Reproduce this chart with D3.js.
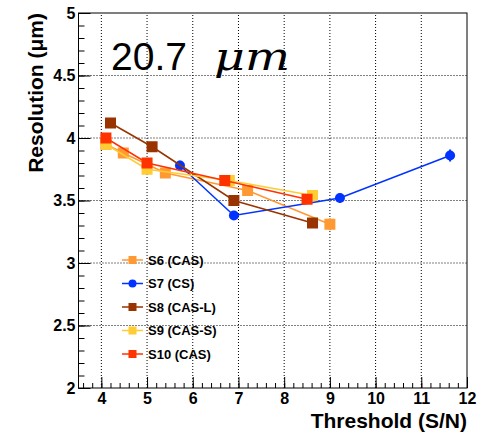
<!DOCTYPE html>
<html lang="en">
<head>
<meta charset="UTF-8">
<title>Resolution vs Threshold</title>
<script src="https://d3js.org/d3.v7.min.js"></script>
<style>
    body { margin: 0; background: #fff; font-family: "Liberation Sans", Arial, sans-serif; }
</style>
</head>
<body>
<div id="chart"></div>
<script>
    // series names and styles
    const names = ["S6 (CAS)", "S7 (CS)", "S8 (CAS-L)", "S9 (CAS-S)", "S10 (CAS)"];
    const colors = ["#ff9933", "#0033ff", "#993300", "#ffcc33", "#ff3300"];
    const shapes = ["square", "circle", "square", "square", "square"];

    // threshold (S/N) per series
    const s6x = [4.1, 4.48, 5.4, 7.2, 9.0];
    const s7x = [5.72, 6.9, 9.22, 11.63];
    const s8x = [4.2, 5.11, 6.9, 8.62];
    const s9x = [4.1, 5.0, 6.8, 8.62];
    const s10x = [4.1, 5.0, 6.7, 8.5];

    // resolution (um) per series
    const s6y = [3.95, 3.88, 3.72, 3.58, 3.31];
    const s7y = [3.78, 3.38, 3.52, 3.86];
    const s8y = [4.12, 3.93, 3.50, 3.32];
    const s9y = [3.95, 3.75, 3.66, 3.54];
    const s10y = [4.0, 3.80, 3.66, 3.51];

    // error on resolution
    const s6e = [0.02, 0.02, 0.02, 0.02, 0.04];
    const s7e = [0.03, 0.02, 0.03, 0.04];
    const s8e = [0.02, 0.02, 0.02, 0.02];
    const s9e = [0.02, 0.02, 0.02, 0.02];
    const s10e = [0.02, 0.02, 0.02, 0.02];

    const xs = [s6x, s7x, s8x, s9x, s10x];
    const ys = [s6y, s7y, s8y, s9y, s10y];
    const es = [s6e, s7e, s8e, s9e, s10e];

    const xTicks = [4, 5, 6, 7, 8, 9, 10, 11, 12];
    const yTicks = [2, 2.5, 3, 3.5, 4, 4.5, 5];

    const width = 488, height = 433;
    const margin = {left: 78.5, right: 21, top: 13, bottom: 45};

    const x = d3.scaleLinear().domain([3.5, 12]).range([margin.left, width - margin.right]);
    const y = d3.scaleLinear().domain([2, 5]).range([height - margin.bottom, margin.top]);

    const svg = d3.select("#chart").append("svg")
        .attr("width", width)
        .attr("height", height);

    const x0 = x.range()[0], x1 = x.range()[1];
    const y0 = y.range()[0], y1 = y.range()[1];

    // dotted grid
    const grid = svg.append("g")
        .attr("stroke", "#000")
        .attr("stroke-width", 1)
        .attr("stroke-dasharray", "1,2");
    grid.selectAll(".gx").data(xTicks.filter(v => v < 12)).enter().append("line")
        .attr("x1", d => x(d)).attr("x2", d => x(d))
        .attr("y1", y0).attr("y2", y1);
    grid.selectAll(".gy").data(yTicks.filter(v => v > 2 && v < 5)).enter().append("line")
        .attr("x1", x0).attr("x2", x1)
        .attr("y1", d => y(d)).attr("y2", d => y(d));

    // frame
    svg.append("rect")
        .attr("x", x0).attr("y", y1)
        .attr("width", x1 - x0).attr("height", y0 - y1)
        .attr("fill", "none").attr("stroke", "#000").attr("stroke-width", 1);

    function styleLabels(g) {
        g.select(".domain").remove();
        g.attr("font-family", "Liberation Sans, Arial, sans-serif")
            .attr("font-size", 16)
            .attr("font-weight", "bold");
        g.selectAll("text").attr("fill", "#000");
    }

    // x axis (inward ticks)
    const xMinor = d3.range(3.6, 12.001, 0.2).map(v => +v.toFixed(1));
    svg.append("g")
        .attr("transform", "translate(0," + y0 + ")")
        .call(d3.axisBottom(x).tickValues(xMinor).tickSize(-5).tickFormat(""))
        .call(g => g.select(".domain").remove());
    svg.append("g")
        .attr("transform", "translate(0," + y0 + ")")
        .call(d3.axisBottom(x).tickValues(xTicks).tickSize(-11).tickPadding(5).tickFormat(d3.format("d")))
        .call(styleLabels);

    // y axis (inward ticks)
    const yMinor = d3.range(2, 5.001, 0.1).map(v => +v.toFixed(1));
    svg.append("g")
        .attr("transform", "translate(" + x0 + ",0)")
        .call(d3.axisLeft(y).tickValues(yMinor).tickSize(-6).tickFormat(""))
        .call(g => g.select(".domain").remove());
    svg.append("g")
        .attr("transform", "translate(" + x0 + ",0)")
        .call(d3.axisLeft(y).tickValues(yTicks).tickSize(-12).tickPadding(3).tickFormat(d => d))
        .call(styleLabels);

    // axis titles
    svg.append("text")
        .attr("x", x1).attr("y", 428)
        .attr("text-anchor", "end")
        .attr("font-size", 21).attr("font-weight", "bold")
        .text("Threshold (S/N)");
    svg.append("text")
        .attr("transform", "translate(43," + y1 + ") rotate(-90)")
        .attr("text-anchor", "end")
        .attr("font-size", 21).attr("font-weight", "bold")
        .text("Resolution (\u03bcm)");

    // big label
    svg.append("text").attr("x", 111).attr("y", 70)
        .attr("font-size", 39)
        .text("20.7");
    svg.append("text").attr("x", 214).attr("y", 70)
        .attr("font-size", 40)
        .attr("font-family", "DejaVu Serif, serif").attr("font-style", "italic")
        .attr("textLength", 76).attr("lengthAdjust", "spacingAndGlyphs")
        .text("\u03bcm");

    function marker(g, shape, color, size) {
        if (shape === "circle") {
            g.append("circle").attr("r", size / 2).attr("fill", color);
        } else {
            g.append("rect").attr("x", -size / 2).attr("y", -size / 2)
                .attr("width", size).attr("height", size).attr("fill", color);
        }
    }

    // series
    const line = d3.line().x(d => x(d[0])).y(d => y(d[1]));
    names.forEach((n, i) => {
        const pts = xs[i].map((v, j) => [v, ys[i][j], es[i][j]]);
        const g = svg.append("g");
        g.append("path").datum(pts)
            .attr("d", line)
            .attr("fill", "none")
            .attr("stroke", colors[i])
            .attr("stroke-width", 1.5);
        g.selectAll(".err").data(pts).enter().append("line")
            .attr("x1", d => x(d[0])).attr("x2", d => x(d[0]))
            .attr("y1", d => y(d[1] - d[2]) + 1).attr("y2", d => y(d[1] + d[2]) - 1)
            .attr("stroke", colors[i]).attr("stroke-width", 2);
        pts.forEach(d => {
            const m = g.append("g").attr("transform", "translate(" + x(d[0]) + "," + y(d[1]) + ")");
            marker(m, shapes[i], colors[i], shapes[i] === "circle" ? 10 : 11);
        });
    });

    // legend
    const legend = svg.append("g");
    names.forEach((n, i) => {
        const yy = 260 + i * 23.5;
        const row = legend.append("g").attr("transform", "translate(0," + yy + ")");
        row.append("line").attr("x1", 122).attr("x2", 143)
            .attr("stroke", colors[i]).attr("stroke-width", 1.5);
        const m = row.append("g").attr("transform", "translate(132.5,0)");
        marker(m, shapes[i], colors[i], 8);
        row.append("text").attr("x", 148).attr("dy", "0.36em")
            .attr("font-size", 13).attr("font-weight", "bold")
            .text(n);
    });
</script>
</body>
</html>
